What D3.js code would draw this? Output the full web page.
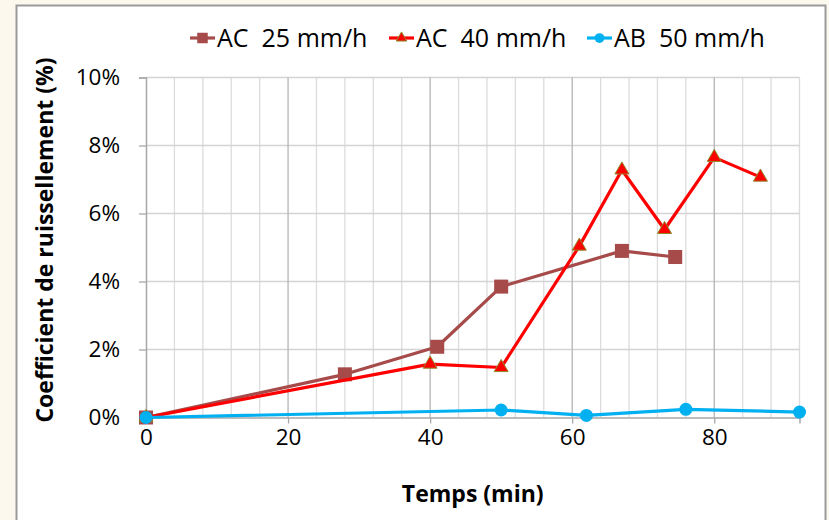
<!DOCTYPE html>
<html><head><meta charset="utf-8">
<script src="https://cdn.jsdelivr.net/npm/d3@7"></script>
<style>body{margin:0;background:#fdf8ee;} svg{display:block;} text{white-space:pre;}</style>
</head><body>
<script>
const xTicks = [0, 20, 40, 60, 80];
const yTicks = [0, 0.02, 0.04, 0.06, 0.08, 0.10];
const ac25Time = [0, 28, 41, 50, 67, 74.5];
const ac25Value = [0, 0.0127, 0.0208, 0.0385, 0.0490, 0.0472];
const ac40Time = [0, 40, 50, 61, 67, 73, 80, 86.5];
const ac40Value = [0, 0.0157, 0.0147, 0.0504, 0.0728, 0.0553, 0.0765, 0.0707];
const ab50Time = [0, 50, 62, 76, 92];
const ab50Value = [0, 0.0022, 0.0006, 0.0024, 0.0016];
const seriesNames = ["AC  25 mm/h", "AC  40 mm/h", "AB  50 mm/h"];

const W = 829, H = 520;
const svg = d3.select("body").append("svg").attr("width", W).attr("height", H);
svg.append("rect").attr("width", W).attr("height", H).attr("fill", "#fdf8ee");
svg.append("rect").attr("x", 16.5).attr("y", 5.5).attr("width", 809).attr("height", 530)
  .attr("fill", "#fff").attr("stroke", "#9a9a9a").attr("stroke-width", 2);

const x = d3.scaleLinear().domain([0, 92]).range([146, 799.5]);
const y = d3.scaleLinear().domain([0, 0.10]).range([417.5, 77.5]);
const font = "'Open Sans', sans-serif";

// grid
const minor = d3.range(4, 93, 4).filter(v => v % 20 !== 0);
svg.append("g").selectAll("line").data(minor).join("line")
  .attr("x1", d => x(d)).attr("x2", d => x(d)).attr("y1", y(0)).attr("y2", y(0.10))
  .attr("stroke", "#dcdcdc").attr("stroke-width", 1.3);
svg.append("g").selectAll("line").data(yTicks.slice(1)).join("line")
  .attr("x1", x(0)).attr("x2", x(92)).attr("y1", d => y(d)).attr("y2", d => y(d))
  .attr("stroke", "#d4d4d4").attr("stroke-width", 1.5);
svg.append("g").selectAll("line").data(xTicks.slice(1)).join("line")
  .attr("x1", d => x(d)).attr("x2", d => x(d)).attr("y1", y(0)).attr("y2", y(0.10))
  .attr("stroke", "#b5b5b5").attr("stroke-width", 1.3);

// axes
const xAxis = svg.append("g").attr("transform", `translate(0,${y(0)})`)
  .call(d3.axisBottom(x).tickValues(xTicks).tickSize(6).tickPadding(6).tickFormat(d3.format("d")));
const yAxis = svg.append("g").attr("transform", `translate(${x(0)},0)`)
  .call(d3.axisLeft(y).tickValues(yTicks).tickSize(7).tickPadding(19).tickFormat(d3.format(".0%")));
[xAxis, yAxis].forEach(a => {
  a.select(".domain").attr("stroke", "#a8a8a8").attr("stroke-width", 1.5);
  a.selectAll(".tick line").attr("stroke", "#a8a8a8").attr("stroke-width", 1.3);
  a.selectAll("text").attr("font-family", font).attr("font-size", 22.5).attr("fill", "#000");
});

svg.append("text").attr("x", x(46)).attr("y", 502).attr("text-anchor", "middle")
  .attr("font-family", font).attr("font-weight", "bold").attr("font-size", 23).text("Temps (min)");
svg.append("text").attr("transform", `translate(53,${y(0.0522)}) rotate(-90)`).attr("text-anchor", "middle")
  .attr("font-family", font).attr("font-weight", "bold").attr("font-size", 23).text("Coefficient de ruissellement (%)");

const line = d3.line().x(d => x(d[0])).y(d => y(d[1]));
const colors = ["#a64a4a", "#ff0000", "#00b0f0"];
const series = [
  {t: ac25Time, v: ac25Value, c: colors[0], m: "square"},
  {t: ac40Time, v: ac40Value, c: colors[1], m: "triangle"},
  {t: ab50Time, v: ab50Value, c: colors[2], m: "circle"}
];
function marker(g, type, c, cx, cy, s) {
  if (type === "square") g.append("rect").attr("x", cx - 7*s).attr("y", cy - 7*s).attr("width", 14*s).attr("height", 14*s).attr("fill", c);
  else if (type === "triangle") g.append("path").attr("d", d3.symbol(d3.symbolTriangle, 85*s*s)()).attr("transform", `translate(${cx},${cy})`).attr("fill", c).attr("stroke", "#8f8a2a").attr("stroke-width", 1);
  else g.append("circle").attr("cx", cx).attr("cy", cy).attr("r", 6.5*s).attr("fill", c);
}
series.forEach(s => {
  const pts = s.t.map((t, i) => [t, s.v[i]]);
  svg.append("path").datum(pts).attr("d", line).attr("fill", "none").attr("stroke", s.c).attr("stroke-width", 3.2).attr("stroke-linejoin", "round");
  const g = svg.append("g");
  pts.forEach(p => marker(g, s.m, s.c, x(p[0]), y(p[1]), 1));
});

// legend
const legX = [190, 389, 587];
series.forEach((s, i) => {
  const g = svg.append("g");
  g.append("line").attr("x1", legX[i]).attr("x2", legX[i] + 25).attr("y1", 38).attr("y2", 38).attr("stroke", s.c).attr("stroke-width", 3.2);
  marker(g, s.m, s.c, legX[i] + 12.5, 38, 0.75);
  g.append("text").attr("x", legX[i] + 27).attr("y", 47).attr("font-family", font).attr("font-size", 25)
    .attr("xml:space", "preserve").text(seriesNames[i]);
});
</script>
</body></html>
